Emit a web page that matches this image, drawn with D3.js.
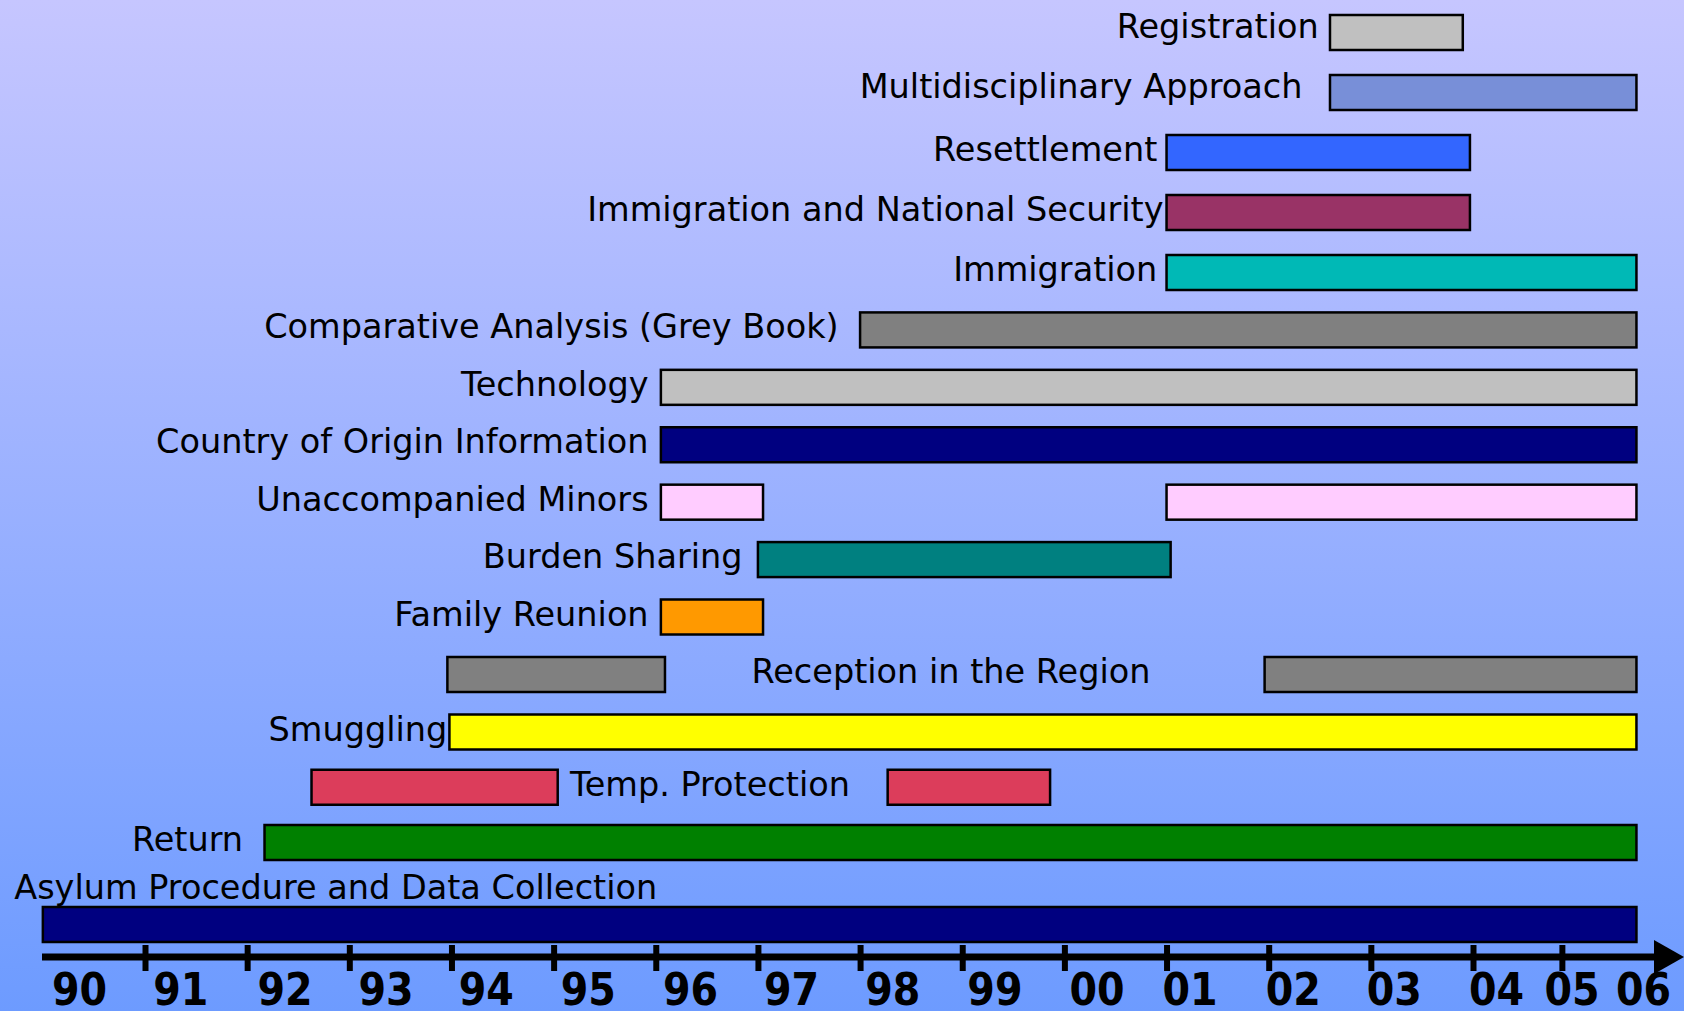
<!DOCTYPE html>
<html><head><meta charset="utf-8">
<script src="https://cdn.jsdelivr.net/npm/d3@7"></script>
<style>html,body{margin:0;padding:0;overflow:hidden;background:#fff} svg{display:block}</style>
</head><body>
<script>
// ---- data ----
const taskNames = ["Registration","Multidisciplinary Approach","Resettlement","Immigration and National Security","Immigration","Comparative Analysis (Grey Book)","Technology","Country of Origin Information","Unaccompanied Minors","Burden Sharing","Family Reunion","Reception in the Region","Smuggling","Temp. Protection","Return","Asylum Procedure and Data Collection"];
const taskSpans = [
  [[2002.6, 2003.9]],
  [[2002.6, 2005.6]],
  [[2001.0, 2003.97]],
  [[2001.0, 2003.97]],
  [[2001.0, 2005.6]],
  [[1998.0, 2005.6]],
  [[1996.05, 2005.6]],
  [[1996.05, 2005.6]],
  [[1996.05, 1997.05], [2001.0, 2005.6]],
  [[1997.0, 2001.04]],
  [[1996.05, 1997.05]],
  [[1993.96, 1996.09], [2001.96, 2005.6]],
  [[1993.98, 2005.6]],
  [[1992.63, 1995.04], [1998.27, 1999.86]],
  [[1992.17, 2005.6]],
  [[1990.0, 2005.6]]
];
const labelYears = [2002.49,2002.33,2000.91,2000.97,2000.91,1997.79,1995.93,1995.93,1995.93,1996.85,1995.93,1998.89,1993.96,1996.53,1991.96,1989.72];
const labelAnchors = ["end","end","end","end","end","end","end","end","end","end","end","middle","end","middle","end","start"];
const tickYears = [1991,1992,1993,1994,1995,1996,1997,1998,1999,2000,2001,2002,2003,2004,2004.87];
const tickLabels = ["90","91","92","93","94","95","96","97","98","99","00","01","02","03","04","05","06"];
const tickLabelYears = [1990.36,1991.35,1992.37,1993.36,1994.34,1995.34,1996.34,1997.33,1998.32,1999.32,2000.32,2001.23,2002.24,2003.23,2004.23,2004.97,2005.67];
const taskColors = ["#c0c0c0","#788fd8","#3366ff","#993366","#00b9b6","#808080","#c0c0c0","#000080","#ffccff","#008080","#ff9900","#808080","#ffff00","#dc3d5b","#008000","#000080"];

// ---- layout ----
const W = 1684, H = 1011;
const x = d3.scaleLinear().domain([1990, 2004]).range([42.85, 1473]);
const y = d3.scaleLinear().domain([0, 4, 10, 12, 14, 15]).range([32.5, 272.5, 617, 732, 842.5, 924.5]);
const barH = 35;
const axisY = 957, axisStart = 42, axisEnd = 1654;

const svg = d3.select("body").append("svg").attr("width", W).attr("height", H);
const defs = svg.append("defs");
const grad = defs.append("linearGradient").attr("id","bg").attr("x1",0).attr("y1",0).attr("x2",0).attr("y2",1);
grad.append("stop").attr("offset","0%").attr("stop-color","#c6c6ff");
grad.append("stop").attr("offset","100%").attr("stop-color","#6d9bff");
svg.append("rect").attr("width",W).attr("height",H).attr("fill","url(#bg)");

const rows = taskNames.map((name,i)=>({name, i, spans: taskSpans[i], color: taskColors[i], ly: labelYears[i], anchor: labelAnchors[i]}));

const g = svg.append("g");
const row = g.selectAll("g.row").data(rows).join("g").attr("class","row");
row.selectAll("rect").data(d => d.spans.map(s => ({s, d}))).join("rect")
  .attr("x", e => x(e.s[0]))
  .attr("width", e => x(e.s[1]) - x(e.s[0]))
  .attr("y", e => y(e.d.i) - barH/2)
  .attr("height", barH)
  .attr("fill", e => e.d.color)
  .attr("stroke", "#000")
  .attr("stroke-width", 2.5);

row.append("text")
  .attr("x", d => x(d.ly))
  .attr("y", d => d.i === 15 ? y(d.i) - 25.5 : y(d.i) + (d.i < 2 ? 5.5 : 8.5))
  .attr("text-anchor", d => d.anchor)
  .attr("font-family", "'DejaVu Sans', Verdana, sans-serif")
  .attr("font-size", 33.5)
  .attr("fill", "#000")
  .text(d => d.name);

// ---- axis ----
const ax = svg.append("g").attr("transform", `translate(0,${axisY - 12})`)
  .call(d3.axisBottom(x).tickValues(tickYears).tickSize(26).tickFormat(""));
ax.select(".domain").remove();
ax.selectAll(".tick line").attr("stroke","#000").attr("stroke-width",6);

svg.append("line").attr("x1",axisStart).attr("x2",axisEnd).attr("y1",axisY).attr("y2",axisY)
  .attr("stroke","#000").attr("stroke-width",7);
svg.append("path").attr("d", `M${axisEnd},${axisY-17}L${W},${axisY}L${axisEnd},${axisY+17}Z`).attr("fill","#000");

svg.append("g").selectAll("text").data(tickLabels).join("text")
  .attr("x", (d,i) => x(tickLabelYears[i]))
  .attr("y", 1005)
  .attr("text-anchor","middle")
  .attr("font-family","'DejaVu Sans Condensed', 'DejaVu Sans', sans-serif")
  .attr("font-stretch","condensed")
  .attr("font-weight","bold")
  .attr("font-size",44)
  .attr("fill","#000")
  .text(d => d);
</script>
</body></html>
